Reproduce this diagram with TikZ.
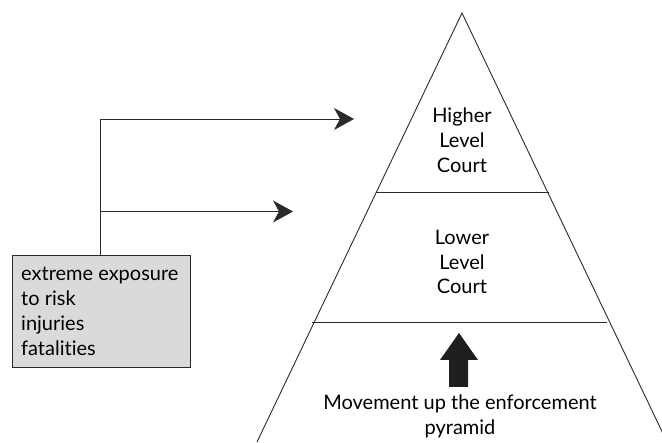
\documentclass[tikz,border=0pt]{standalone}
\usepackage{fontspec}
\setmainfont{Lato}[Ligatures={NoCommon}]
\usetikzlibrary{arrows.meta}
\definecolor{boxgray}{HTML}{D9DADC}
\definecolor{linec}{HTML}{2A2A2A}
\tikzset{
  lin/.style={draw=linec, line width=0.9pt},
  conn/.style={lin, -{Stealth[length=20pt,width=22pt,inset=6pt]}},
  lbl/.style={font=\fontsize{20}{24.8}\selectfont, align=center, inner sep=0pt, text=black},
}
\begin{document}
\begin{tikzpicture}[x=1pt,y=-1pt]
\useasboundingbox (0,0) rectangle (662,443);
% pyramid
\coordinate (apex) at (462,13);
\coordinate (bl) at (257,442);
\coordinate (br) at (667,442);
\draw[lin] (bl) -- (apex) -- (br);
\coordinate (d1l) at (376,192.5);
\coordinate (d1r) at (549,192.5);
\coordinate (d2l) at (311.5,322.5);
\coordinate (d2r) at (607,322.5);
\draw[lin] (d1l) -- (d1r);
\draw[lin] (d2l) -- (d2r);
\node[lbl] (high) at (462,140) {Higher\\Level\\Court};
\node[lbl] (low) at (462,262) {Lower\\Level\\Court};
\node[lbl] (move) at (460,416) {Movement up the enforcement\\pyramid};
% block arrow
\fill[black!88] (459,333) -- (478,360) -- (468,360) -- (468,387) -- (449,387) -- (449,360) -- (440,360) -- cycle;
% box
\node[draw=linec, line width=0.9pt, fill=boxgray, minimum width=178pt, minimum height=112pt, anchor=north west, inner sep=0pt] (box) at (12,255) {};
\node[lbl, align=left, anchor=north west, font=\fontsize{20}{25}\selectfont] (boxt) at (21,267) {extreme exposure\\to risk\\injuries\\fatalities};
\coordinate (top) at (100,119);
\coordinate (mid) at (100,211.5);
\coordinate (t1) at (354,119);
\coordinate (t2) at (293,211.5);
\draw[lin] (box.north -| top) -- (top);
\draw[conn] (top) -- (t1);
\draw[conn] (mid) -- (t2);
\end{tikzpicture}
\end{document}
